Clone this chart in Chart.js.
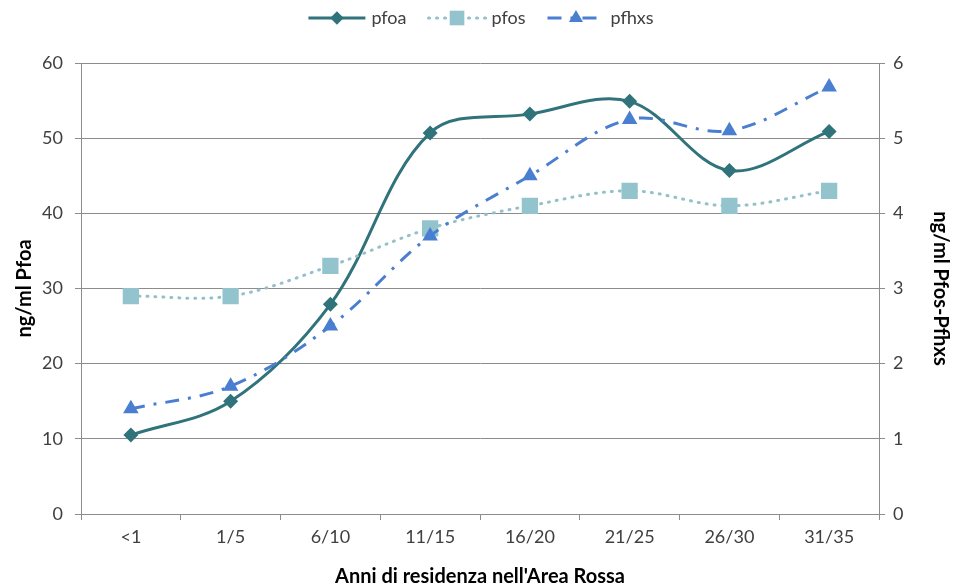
<!DOCTYPE html>
<html>
<head>
<meta charset="utf-8">
<script src="https://cdn.jsdelivr.net/npm/chart.js@4.4.1/dist/chart.umd.min.js"></script>
<style>
  html, body { margin: 0; padding: 0; background: #ffffff; }
  #wrap { width: 954px; height: 585px; position: relative; }
</style>
</head>
<body>
<div id="wrap"><canvas id="c" width="954" height="585"></canvas></div>
<script>
// Years of residence in the Red Area
const categories = ['<1', '1/5', '6/10', '11/15', '16/20', '21/25', '26/30', '31/35'];
// ng/ml, left axis
const pfoa = [10.5, 15.0, 27.9, 50.7, 53.2, 54.9, 45.7, 50.9];
// ng/ml, right axis
const pfos = [2.9, 2.9, 3.3, 3.8, 4.1, 4.3, 4.1, 4.3];
const pfhxs = [1.4, 1.7, 2.5, 3.7, 4.5, 5.25, 5.1, 5.68];
const leftTicks = [0, 10, 20, 30, 40, 50, 60];
const rightTicks = [0, 1, 2, 3, 4, 5, 6];

const FONT = 'Lato, "Open Sans", sans-serif';
const GRID = '#8c8c8c';
const TEXT = '#404040';

const COL_PFOA = '#30737a';
const COL_PFOS = '#93c4cd';
const COL_PFOS_LINE = '#94c0c9';
const COL_PFHXS = '#4a7ed0';

function drawMarker(ctx, style, x, y, r, color) {
  ctx.save();
  ctx.fillStyle = color;
  ctx.beginPath();
  if (style === 'rectRot') {
    ctx.moveTo(x, y - r); ctx.lineTo(x + r, y); ctx.lineTo(x, y + r); ctx.lineTo(x - r, y);
  } else if (style === 'rect') {
    const s = r * Math.SQRT1_2;
    ctx.rect(x - s, y - s, 2 * s, 2 * s);
  } else {
    ctx.moveTo(x, y - r);
    ctx.lineTo(x + r * 0.866, y + r * 0.5);
    ctx.lineTo(x - r * 0.866, y + r * 0.5);
  }
  ctx.closePath();
  ctx.fill();
  ctx.restore();
}

// Legend with line sample plus marker, centred above the plot
const lineLegend = {
  id: 'lineLegend',
  afterDraw(chart) {
    const ctx = chart.ctx;
    const items = chart.data.datasets.map(ds => ({
      text: ds.label, color: ds.borderColor, mark: ds.pointBackgroundColor,
      dash: ds.borderDash || [], style: ds.pointStyle, r: ds.pointRadius * 0.9, w: ds.borderWidth
    }));
    ctx.save();
    ctx.font = '18px ' + FONT;
    const sample = 57, gapText = 6, gapItem = 22;
    let total = 0;
    items.forEach((it, i) => {
      total += sample + gapText + ctx.measureText(it.text).width + (i < items.length - 1 ? gapItem : 0);
    });
    let x = 481 - total / 2;
    const y = 18;
    items.forEach(it => {
      ctx.save();
      ctx.strokeStyle = it.color;
      ctx.lineWidth = it.w;
      ctx.lineCap = it.dash.length && it.dash[0] <= 2 ? 'round' : 'butt';
      ctx.setLineDash(it.dash);
      ctx.beginPath();
      ctx.moveTo(x, y); ctx.lineTo(x + sample, y);
      ctx.stroke();
      ctx.restore();
      drawMarker(ctx, it.style, x + sample / 2, y, it.r, it.mark);
      ctx.fillStyle = TEXT;
      ctx.textBaseline = 'middle';
      ctx.textAlign = 'left';
      ctx.fillText(it.text, x + sample + gapText, y);
      x += sample + gapText + ctx.measureText(it.text).width + gapItem;
    });
    ctx.restore();
  }
};

Chart.defaults.font.family = FONT;
Chart.defaults.color = TEXT;

new Chart(document.getElementById('c'), {
  type: 'line',
  data: {
    labels: categories,
    datasets: [
      {
        label: 'pfoa', data: pfoa, yAxisID: 'y',
        borderColor: COL_PFOA, borderWidth: 3, tension: 0.35,
        pointStyle: 'rectRot', pointRadius: 7.5, pointBackgroundColor: COL_PFOA,
        pointBorderColor: COL_PFOA, pointBorderWidth: 0, order: 3
      },
      {
        label: 'pfos', data: pfos, yAxisID: 'y1',
        borderColor: COL_PFOS_LINE, borderWidth: 3, borderDash: [1, 7], borderCapStyle: 'round',
        tension: 0.35,
        pointStyle: 'rect', pointRadius: 11.5, pointBackgroundColor: COL_PFOS,
        pointBorderColor: COL_PFOS, pointBorderWidth: 0, order: 2
      },
      {
        label: 'pfhxs', data: pfhxs, yAxisID: 'y1',
        borderColor: COL_PFHXS, borderWidth: 3, borderDash: [14, 9, 3, 9],
        tension: 0.35,
        pointStyle: 'triangle', pointRadius: 9, pointBackgroundColor: COL_PFHXS,
        pointBorderColor: COL_PFHXS, pointBorderWidth: 0, order: 1
      }
    ]
  },
  options: {
    responsive: false,
    animation: false,
    devicePixelRatio: 1,
    layout: { padding: { top: 63, left: 0, right: 0, bottom: 0 } },
    plugins: {
      legend: { display: false },
      tooltip: { enabled: false }
    },
    scales: {
      x: {
        offset: true,
        grid: { offset: true, drawOnChartArea: false, drawTicks: true, tickLength: 6, color: GRID },
        border: { color: GRID },
        ticks: { font: { size: 18 }, padding: 6, color: TEXT },
        title: { display: true, text: "Anni di residenza nell'Area Rossa", font: { size: 20, weight: 'bold', lineHeight: 1 }, color: '#000', padding: { top: 0, bottom: -2 } },
        afterFit(s) { s.height = 71; }
      },
      y: {
        position: 'left', min: 0, max: 60,
        afterBuildTicks(s) { s.ticks = leftTicks.map(v => ({ value: v })); },
        grid: { color: GRID, tickLength: 6 },
        border: { color: GRID },
        ticks: { font: { size: 18 }, padding: 12, color: TEXT },
        title: { display: true, text: 'ng/ml Pfoa', font: { size: 20, weight: 'bold', lineHeight: 1 }, color: '#000', padding: { top: 15, bottom: 0 } },
        afterFit(s) { s.width = 81; }
      },
      y1: {
        position: 'right', min: 0, max: 6,
        afterBuildTicks(s) { s.ticks = rightTicks.map(v => ({ value: v })); },
        grid: { drawOnChartArea: false, color: GRID, tickLength: 6 },
        border: { color: GRID },
        ticks: { font: { size: 18 }, padding: 8, color: TEXT },
        title: { display: true, text: 'ng/ml Pfos-Pfhxs', font: { size: 20, weight: 'bold', lineHeight: 1 }, color: '#000', padding: { top: 4, bottom: 0 } },
        afterFit(s) { s.width = 75; }
      }
    }
  },
  plugins: [lineLegend]
});
</script>
</body>
</html>
